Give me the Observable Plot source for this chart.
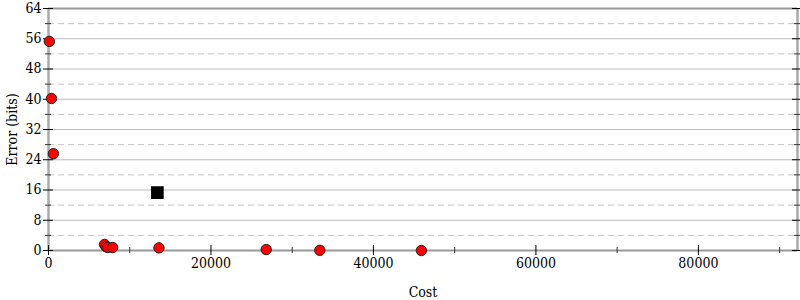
<!DOCTYPE html>
<html><head><meta charset="utf-8">
<script src="https://cdn.jsdelivr.net/npm/d3@7"></script>
<script src="https://cdn.jsdelivr.net/npm/@observablehq/plot@0.6"></script>
<style>body{margin:0;background:#fff}</style>
</head><body><div id="chart"></div>
<script>
const costs  = [100, 370, 600, 6900, 7100, 7300, 7900, 13600, 26800, 33400, 45900];
const errors = [55.3, 40.2, 25.6, 1.6, 1.0, 0.8, 0.8, 0.7, 0.25, 0.05, 0.0];
const bestCost = [13400];
const bestError = [15.3];
const xMajor = [0, 20000, 40000, 60000, 80000];
const xMinor = [10000, 30000, 50000, 70000, 90000];
const yMajor = [0, 8, 16, 24, 32, 40, 48, 56, 64];
const yMinor = [4, 12, 20, 28, 36, 44, 52, 60];
const xMax = 92200;

const pts = costs.map((c, i) => ({cost: c, error: errors[i]}));
const best = bestCost.map((c, i) => ({cost: c, error: bestError[i]}));

const W = 800, H = 300, mL = 48, mR = 3, mT = 8, mB = 50;
const pw = W - mL - mR, ph = H - mT - mB;
const FONT = "'DejaVu Serif Condensed', 'DejaVu Serif', serif";

const chart = Plot.plot({
  width: W, height: H,
  marginLeft: mL, marginRight: mR, marginTop: mT, marginBottom: mB,
  style: {fontFamily: FONT, fontSize: "14px", color: "#000", background: "#fff"},
  x: {domain: [0, xMax], nice: false},
  y: {domain: [0, 64], nice: false},
  marks: [
    Plot.ruleY(yMajor.filter(v => v > 0 && v < 64), {stroke: "#bbb", strokeWidth: 1}),
    Plot.ruleY(yMinor, {stroke: "#c4c4c4", strokeWidth: 1, strokeDasharray: "6,4"}),
    Plot.ruleY([0, 64], {stroke: "#999", strokeWidth: 2}),
    Plot.ruleX([0, xMax], {stroke: "#aaa", strokeWidth: 2.5}),
    Plot.ruleX(xMajor, {stroke: "#000", insetTop: ph - 5, insetBottom: -5}),
    Plot.ruleX(xMinor, {stroke: "#333", insetTop: ph - 3, insetBottom: -3}),
    Plot.ruleY(yMajor, {stroke: "#000", insetLeft: -5, insetRight: pw - 5}),
    Plot.ruleY(yMinor, {stroke: "#333", insetLeft: -3, insetRight: pw - 3}),
    Plot.ruleY(yMajor, {stroke: "#000", insetLeft: pw - 5, insetRight: -3}),
    Plot.ruleY(yMinor, {stroke: "#333", insetLeft: pw - 3, insetRight: -3}),
    Plot.axisX(xMajor, {tickSize: 0, tickPadding: 8, tickFormat: d => String(d), label: "Cost", labelAnchor: "center", labelArrow: "none", labelOffset: 46, fontSize: 14}),
    Plot.axisY(yMajor, {tickSize: 0, tickPadding: 7, tickFormat: d => String(d), label: "Error (bits)", labelAnchor: "center", labelArrow: "none", labelOffset: 41, fontSize: 14}),
    Plot.dot(pts, {x: "cost", y: "error", r: 5.2, fill: "#ff0000", stroke: "#222", strokeWidth: 1}),
    Plot.dot(best, {x: "cost", y: "error", symbol: "square", r: 6.3, fill: "#000", stroke: "#000"})
  ]
});
chart.querySelectorAll("text, g").forEach(t => { t.style.fontFamily = FONT; });
document.getElementById("chart").appendChild(chart);
</script></body></html>
